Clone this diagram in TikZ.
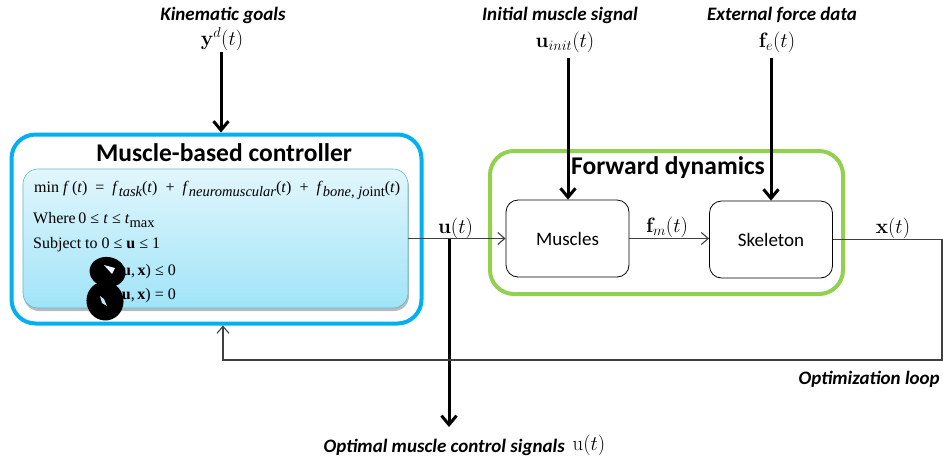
\documentclass[tikz,border=0pt]{standalone}
\usepackage[no-math]{fontspec}
\usetikzlibrary{arrows.meta,shadows,calc}
\newfontfamily\calib{Carlito}
\newfontfamily\tms{Liberation Serif}
\definecolor{ctrlblue}{HTML}{00B0F0}
\definecolor{fwdgreen}{HTML}{92D050}
\definecolor{innertop}{HTML}{E2F6FC}
\definecolor{innerbot}{HTML}{A0E4F8}
\definecolor{innerline}{HTML}{5AB9D2}
\definecolor{linegray}{HTML}{404040}
\newcommand\lsub[1]{\raisebox{-4pt}{\fontsize{14.5}{14.5}\selectfont\itshape #1}}
\newcommand\opsp[1]{\hspace{8pt}#1\hspace{8pt}}
\begin{document}
\begin{tikzpicture}[x=1pt,y=-1pt,
  bigbox/.style={draw,line width=4pt,rounded corners=24pt,inner sep=0pt},
  blockbox/.style={draw,line width=0.8pt,rounded corners=12pt,minimum width=123pt,minimum height=77pt,inner sep=0pt,font=\calib\fontsize{19}{19}\selectfont},
  titletext/.style={font=\calib\bfseries\fontsize{25.5}{25.5}\selectfont},
  lbl/.style={font=\calib\bfseries\itshape\fontsize{19}{19}\selectfont,inner sep=0pt},
  mlbl/.style={font=\fontsize{21}{21}\selectfont,inner sep=0pt},
  mlbls/.style={font=\fontsize{19.5}{19.5}\selectfont,inner sep=0pt},
  eqline/.style={font=\tms\fontsize{16}{16}\selectfont,inner sep=0pt},
  thick arrow/.style={line width=3pt,-{Straight Barb[length=9pt,width=15pt]}},
  thin arrow/.style={draw=linegray,line width=1.1pt,-{Straight Barb[length=7pt,width=12pt]}},
  thin line/.style={draw=linegray,line width=1.1pt}]
\useasboundingbox (0,0) rectangle (943,461);
% controller
\node[bigbox,draw=ctrlblue,minimum width=410pt,minimum height=189pt] (ctrl) at (216.5,229) {};
\node[titletext] (ctrltitle) at (224,153) {Muscle-based controller};
\node[draw=innerline,line width=0.6pt,rounded corners=15pt,top color=innertop,bottom color=innerbot,
      minimum width=385pt,minimum height=139pt,inner sep=0pt,
      drop shadow={shadow xshift=1pt,shadow yshift=-3pt,fill=black!60,opacity=0.45}] (inner) at (215.5,238.5) {};
\node[eqline,anchor=base west] (eq1) at (34,192) {min \textit{f}\,(\textit{t})\opsp{=}\textit{f}\lsub{task}(\textit{t})\opsp{+}\textit{f}\lsub{neuromuscular}(\textit{t})\opsp{+}\textit{f}\lsub{bone, jo\upshape int}(\textit{t})};
\node[eqline,anchor=base west] (eq2) at (33,223) {Where\,0 ≤ \textit{t} ≤ \textit{t}\raisebox{-4pt}{\fontsize{14.5}{14.5}\selectfont max}};
\node[eqline,anchor=base west] (eq3) at (33,248) {Subject to 0 ≤ \textbf{u} ≤ 1};
\node[eqline,anchor=base east] (eq4) at (176,275) {\textbf{u},\,\textbf{x}) ≤ 0};
\node[eqline,anchor=base east] (eq5) at (176,299) {\textbf{u},\,\textbf{x}) = 0};
% scribble
\fill[black,rotate around={-10:(107.5,272)}] (107.5,272) ellipse [x radius=18pt,y radius=15pt];
\fill[black,rotate around={10:(105,301)}] (105,301) ellipse [x radius=18.5pt,y radius=19.5pt];
\fill[innertop!70!white] (104,265) -- (115,268) -- (112,274) -- cycle;
\fill[innerbot!70!white] (100,296) -- (104,299) -- (107,306) -- (102,303) -- cycle;
% forward dynamics
\node[bigbox,draw=fwdgreen,minimum width=353pt,minimum height=143pt] (fwd) at (666.5,222.5) {};
\node[titletext] (fwdtitle) at (668,168) {Forward dynamics};
\node[blockbox] (muscles) at (567.5,238.5) {Muscles};
\node[blockbox] (skeleton) at (771,239.5) {Skeleton};
% inputs
\node[lbl] (kinlbl) at (223,15) {Kinematic goals};
\node[mlbl] (kinmath) at (222,39) {$\mathbf{y}^{d}(t)$};
\coordinate (kinS) at (221,52);
\draw[thick arrow] (kinS) -- (kinS |- ctrl.north);
\node[lbl] (initlbl) at (560,15) {Initial muscle signal};
\node[mlbls] (initmath) at (565,42) {$\mathbf{u}_{init}(t)$};
\coordinate (initS) at (568,58);
\draw[thick arrow] (initS) -- (initS |- muscles.north);
\node[lbl] (extlbl) at (782,15) {External force data};
\node[mlbls] (extmath) at (777,42) {$\mathbf{f}_{e}(t)$};
\coordinate (extS) at (771,58);
\draw[thick arrow] (extS) -- (extS |- skeleton.north);
% signals
\draw[thin arrow] (inner.east) -- (muscles.west);
\node[mlbl] (ulbl) at (455.5,228) {$\mathbf{u}(t)$};
\coordinate (split) at (449,238.5);
\coordinate (outEnd) at (449,427);
\draw[thick arrow] (split) -- (outEnd);
\node[lbl,anchor=east] (optlbl) at (565,447) {Optimal muscle control signals};
\node[mlbl] (optmath) at (589,445) {$\mathrm{u}(t)$};
\draw[thin arrow] (muscles.east) -- (skeleton.west |- muscles.east);
\node[mlbls] (fmlbl) at (667,227) {$\mathbf{f}_{m}(t)$};
\coordinate (rc) at (942,239.5);
\coordinate (rb) at (942,360);
\coordinate (lb) at (223,360);
\draw[thin arrow] (skeleton.east) -- (rc) -- (rb) -- (lb) -- (lb |- ctrl.south);
\node[mlbls] (xlbl) at (893,228) {$\mathbf{x}(t)$};
\node[lbl,anchor=east] (looplbl) at (940,379) {Optimization loop};
\end{tikzpicture}
\end{document}
